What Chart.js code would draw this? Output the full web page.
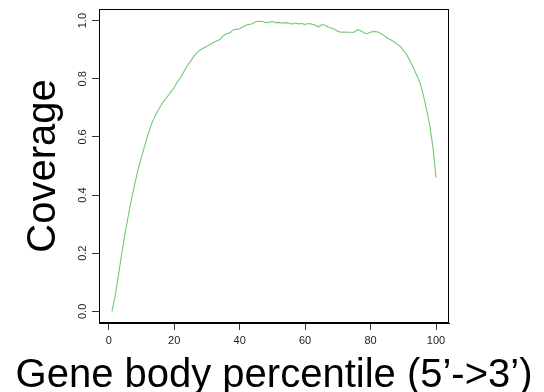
<!DOCTYPE html>
<html>
<head>
<meta charset="utf-8">
<script src="https://cdn.jsdelivr.net/npm/chart.js@4"></script>
<style>
  html, body { margin: 0; padding: 0; background: #fff; }
  #wrap { width: 544px; height: 392px; }
</style>
</head>
<body>
<div id="wrap"><canvas id="cov"></canvas></div>
<script>
// gene body percentile 1..100
var percentiles = [];
for (var i = 1; i <= 100; i++) percentiles.push(i);

var coverage = [
    0.000, 0.055, 0.125, 0.200, 0.268, 0.330, 0.388, 0.440, 0.488, 0.530,
    0.570, 0.608, 0.642, 0.668, 0.690, 0.709, 0.725, 0.740, 0.755, 0.770,
    0.790, 0.805, 0.825, 0.845, 0.860, 0.877, 0.890, 0.900, 0.906, 0.912,
    0.918, 0.925, 0.930, 0.935, 0.948, 0.955, 0.958, 0.968, 0.970, 0.972,
    0.978, 0.985, 0.987, 0.990, 0.997, 0.998, 0.997, 0.993, 0.994, 0.997,
    0.993, 0.994, 0.991, 0.993, 0.992, 0.988, 0.992, 0.989, 0.990, 0.987,
    0.990, 0.988, 0.985, 0.978, 0.986, 0.985, 0.978, 0.975, 0.970, 0.963,
    0.960, 0.961, 0.960, 0.960, 0.960, 0.968, 0.965, 0.958, 0.955, 0.960,
    0.963, 0.962, 0.957, 0.950, 0.941, 0.935, 0.928, 0.920, 0.912, 0.898,
    0.884, 0.862, 0.840, 0.815, 0.790, 0.750, 0.700, 0.645, 0.570, 0.460
];

var xTicks = [0, 20, 40, 60, 80, 100];
var yTicks = [0, 0.2, 0.4, 0.6, 0.8, 1.0];
var yTickLabels = ['0.0', '0.2', '0.4', '0.6', '0.8', '1.0'];
var xTitle = 'Gene body percentile (5\u2019->3\u2019)';
var yTitle = 'Coverage';

var FONT = '"Liberation Sans", Arial, Helvetica, sans-serif';

// R style box, rotated y labels and axis titles
var rStyle = {
    id: 'rStyle',
    afterDraw: function (chart) {
        var ctx = chart.ctx;
        var a = chart.chartArea;
        var y = chart.scales.y;

        ctx.save();
        ctx.strokeStyle = '#000';
        ctx.lineWidth = 1;
        ctx.strokeRect(a.left + 0.5, a.top + 0.5, a.right - a.left - 1, a.bottom - a.top - 1);

        ctx.fillStyle = '#222';
        ctx.font = '11px ' + FONT;
        ctx.textAlign = 'center';
        ctx.textBaseline = 'alphabetic';
        yTicks.forEach(function (v, k) {
            var py = y.getPixelForValue(v);
            ctx.save();
            ctx.translate(86, py);
            ctx.rotate(-Math.PI / 2);
            ctx.fillText(yTickLabels[k], 0, 0);
            ctx.restore();
        });

        ctx.fillStyle = '#000';
        ctx.font = '40px ' + FONT;
        ctx.save();
        ctx.translate(55, (a.top + a.bottom) / 2);
        ctx.rotate(-Math.PI / 2);
        ctx.fillText(yTitle, 0, 0);
        ctx.restore();

        ctx.fillText(xTitle, (a.left + a.right) / 2, 387);
        ctx.restore();
    }
};

new Chart(document.getElementById('cov'), {
    type: 'line',
    data: {
        datasets: [
            {
                data: percentiles.map(function (p, k) {
                    return { x: p, y: coverage[k] };
                }),
                borderColor: '#72ca72',
                borderWidth: 1.1,
                pointRadius: 0,
                tension: 0,
                fill: false
            }
        ]
    },
    options: {
        responsive: true,
        maintainAspectRatio: false,
        animation: false,
        layout: {
            padding: { left: 0, right: 95, top: 9, bottom: 0 }
        },
        plugins: {
            legend: { display: false },
            tooltip: { enabled: false }
        },
        scales: {
            x: {
                type: 'linear',
                min: -2.96,
                max: 103.96,
                afterBuildTicks: function (s) {
                    s.ticks = xTicks.map(function (v) { return { value: v }; });
                },
                afterFit: function (s) { s.height = 69; },
                grid: {
                    drawOnChartArea: false,
                    drawTicks: true,
                    tickLength: 7,
                    color: '#333'
                },
                border: { display: true, color: '#000' },
                ticks: {
                    font: { size: 11, family: FONT },
                    color: '#222',
                    padding: 4,
                    maxRotation: 0,
                    autoSkip: false,
                    callback: function (v) { return String(v); }
                }
            },
            y: {
                type: 'linear',
                min: -0.04,
                max: 1.04,
                afterBuildTicks: function (s) {
                    s.ticks = yTicks.map(function (v) { return { value: v }; });
                },
                afterFit: function (s) { s.width = 99; },
                grid: {
                    drawOnChartArea: false,
                    drawTicks: true,
                    tickLength: 7,
                    color: '#333'
                },
                border: { display: true, color: '#000' },
                ticks: { display: false }
            }
        }
    },
    plugins: [rStyle]
});
</script>
</body>
</html>
